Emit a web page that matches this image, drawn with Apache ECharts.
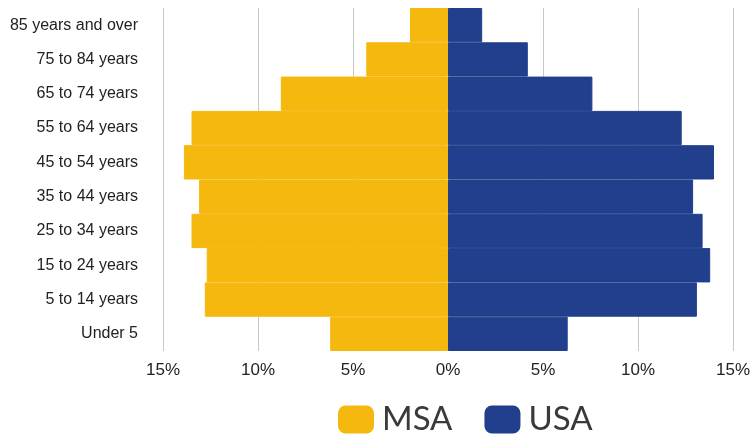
<!DOCTYPE html>
<html>
<head>
<meta charset="utf-8">
<script src="https://cdn.jsdelivr.net/npm/echarts@6/dist/echarts.min.js"></script>
<style>
  html, body { margin: 0; padding: 0; background: #fff; }
  #chart { width: 750px; height: 442px; }
</style>
</head>
<body>
<div id="chart"></div>
<script>
// age groups, bottom to top
var ageGroups = ['Under 5', '5 to 14 years', '15 to 24 years', '25 to 34 years', '35 to 44 years',
  '45 to 54 years', '55 to 64 years', '65 to 74 years', '75 to 84 years', '85 years and over'];
// share of population (%)
var msaValues = [6.2, 12.8, 12.7, 13.5, 13.1, 13.9, 13.5, 8.8, 4.3, 2.0];
var usaValues = [6.3, 13.1, 13.8, 13.4, 12.9, 14.0, 12.3, 7.6, 4.2, 1.8];
var xTicks = { min: -15, max: 15, step: 5 };

var labelFont = '"Liberation Sans", Arial, sans-serif';
var msaColor = '#F5B80F';
var usaColor = '#213F8C';

var myChart = echarts.init(document.getElementById('chart'));
var option = {
  animation: false,
  color: [msaColor, usaColor],
  grid: { left: 163, right: 17, top: 8, bottom: 91, containLabel: false, outerBoundsMode: 'none' },
  legend: {
    bottom: 1,
    left: 333,
    itemWidth: 34,
    itemHeight: 26,
    itemGap: 32,
    icon: 'roundRect',
    textStyle: { fontFamily: 'Lato, "Noto Sans", sans-serif', fontSize: 33, color: '#3a3a3a', padding: [0, 0, 0, 4] },
    data: ['MSA', 'USA']
  },
  xAxis: {
    type: 'value',
    min: xTicks.min,
    max: xTicks.max,
    interval: xTicks.step,
    axisLine: { show: false },
    axisTick: { show: false },
    splitLine: { show: true, lineStyle: { color: '#c8c8c8', width: 1 } },
    axisLabel: {
      margin: 11,
      fontFamily: labelFont,
      fontSize: 17,
      color: '#222',
      formatter: function (v) { return Math.abs(v) + '%'; }
    }
  },
  yAxis: {
    type: 'category',
    data: ageGroups,
    axisLine: { show: false },
    axisTick: { show: false },
    splitLine: { show: false },
    axisLabel: { margin: 25, fontFamily: labelFont, fontSize: 16, color: '#222' }
  },
  series: [
    {
      name: 'MSA',
      type: 'bar',
      barCategoryGap: '0%',
      barGap: '-100%',
      itemStyle: { borderColor: msaColor, borderWidth: 1 },
      data: msaValues.map(function (v) { return -v; })
    },
    {
      name: 'USA',
      type: 'bar',
      barCategoryGap: '0%',
      barGap: '-100%',
      itemStyle: { borderColor: usaColor, borderWidth: 1 },
      data: usaValues
    }
  ]
};
myChart.setOption(option);
</script>
</body>
</html>
